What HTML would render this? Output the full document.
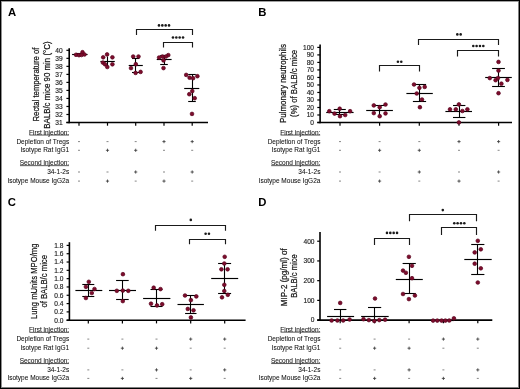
<!DOCTYPE html>
<html><head><meta charset="utf-8">
<style>
html,body{margin:0;padding:0;background:#fff;}
body{width:520px;height:389px;overflow:hidden;}
svg{display:block;will-change:transform;font-family:"Liberation Sans", sans-serif;}
</style></head>
<body>
<svg width="520" height="389" viewBox="0 0 520 389">
<rect width="520" height="389" fill="#fff"/>
<g>
<rect width="520" height="389" fill="#fff"/>
<text x="8" y="16.2" font-size="11.3" text-anchor="start" font-weight="bold" >A</text>
<line x1="69.2" y1="48.3" x2="69.2" y2="123.2" stroke="#000" stroke-width="1.6"/>
<line x1="66.4" y1="122.5" x2="208" y2="122.5" stroke="#000" stroke-width="1.6"/>
<line x1="66.4" y1="122.5" x2="69.2" y2="122.5" stroke="#000" stroke-width="1.2"/>
<text x="62.7" y="124.85" font-size="6.6" text-anchor="end" font-weight="normal" fill="#222" stroke="#222" stroke-width="0.15">31</text>
<line x1="66.4" y1="114.48" x2="69.2" y2="114.48" stroke="#000" stroke-width="1.2"/>
<text x="62.7" y="116.83" font-size="6.6" text-anchor="end" font-weight="normal" fill="#222" stroke="#222" stroke-width="0.15">32</text>
<line x1="66.4" y1="106.46000000000001" x2="69.2" y2="106.46000000000001" stroke="#000" stroke-width="1.2"/>
<text x="62.7" y="108.81" font-size="6.6" text-anchor="end" font-weight="normal" fill="#222" stroke="#222" stroke-width="0.15">33</text>
<line x1="66.4" y1="98.44" x2="69.2" y2="98.44" stroke="#000" stroke-width="1.2"/>
<text x="62.7" y="100.78999999999999" font-size="6.6" text-anchor="end" font-weight="normal" fill="#222" stroke="#222" stroke-width="0.15">34</text>
<line x1="66.4" y1="90.42" x2="69.2" y2="90.42" stroke="#000" stroke-width="1.2"/>
<text x="62.7" y="92.77" font-size="6.6" text-anchor="end" font-weight="normal" fill="#222" stroke="#222" stroke-width="0.15">35</text>
<line x1="66.4" y1="82.4" x2="69.2" y2="82.4" stroke="#000" stroke-width="1.2"/>
<text x="62.7" y="84.75" font-size="6.6" text-anchor="end" font-weight="normal" fill="#222" stroke="#222" stroke-width="0.15">36</text>
<line x1="66.4" y1="74.38" x2="69.2" y2="74.38" stroke="#000" stroke-width="1.2"/>
<text x="62.7" y="76.72999999999999" font-size="6.6" text-anchor="end" font-weight="normal" fill="#222" stroke="#222" stroke-width="0.15">37</text>
<line x1="66.4" y1="66.36" x2="69.2" y2="66.36" stroke="#000" stroke-width="1.2"/>
<text x="62.7" y="68.71" font-size="6.6" text-anchor="end" font-weight="normal" fill="#222" stroke="#222" stroke-width="0.15">38</text>
<line x1="66.4" y1="58.34" x2="69.2" y2="58.34" stroke="#000" stroke-width="1.2"/>
<text x="62.7" y="60.690000000000005" font-size="6.6" text-anchor="end" font-weight="normal" fill="#222" stroke="#222" stroke-width="0.15">39</text>
<line x1="66.4" y1="50.32000000000001" x2="69.2" y2="50.32000000000001" stroke="#000" stroke-width="1.2"/>
<text x="62.7" y="52.67000000000001" font-size="6.6" text-anchor="end" font-weight="normal" fill="#222" stroke="#222" stroke-width="0.15">40</text>
<line x1="79" y1="122.5" x2="79" y2="125.7" stroke="#000" stroke-width="1.2"/>
<line x1="107.5" y1="122.5" x2="107.5" y2="125.7" stroke="#000" stroke-width="1.2"/>
<line x1="135.7" y1="122.5" x2="135.7" y2="125.7" stroke="#000" stroke-width="1.2"/>
<line x1="164" y1="122.5" x2="164" y2="125.7" stroke="#000" stroke-width="1.2"/>
<line x1="192.2" y1="122.5" x2="192.2" y2="125.7" stroke="#000" stroke-width="1.2"/>
<text transform="translate(39.4,84.5) rotate(-90) scale(0.8105,1)" x="0" y="0" font-size="9.5" text-anchor="middle" fill="#111" stroke="#111" stroke-width="0.22">Rectal temperature of</text>
<text transform="translate(49.6,85.1) rotate(-90) scale(0.8316,1)" x="0" y="0" font-size="9.5" text-anchor="middle" fill="#111" stroke="#111" stroke-width="0.22">BALB/c mice 90 min (°C)</text>
<line x1="79.5" y1="53.5" x2="79.5" y2="55.5" stroke="#000" stroke-width="1.1"/>
<line x1="76" y1="53.5" x2="82" y2="53.5" stroke="#000" stroke-width="1.1"/>
<line x1="76" y1="55.5" x2="82" y2="55.5" stroke="#000" stroke-width="1.1"/>
<line x1="72.1" y1="54.5" x2="87.6" y2="54.5" stroke="#000" stroke-width="1.15"/>
<circle cx="76" cy="54.8" r="1.85" fill="#7d0c2c" stroke="#5a0620" stroke-width="0.7"/>
<circle cx="79" cy="55.2" r="1.85" fill="#7d0c2c" stroke="#5a0620" stroke-width="0.7"/>
<circle cx="82.5" cy="52.2" r="1.85" fill="#7d0c2c" stroke="#5a0620" stroke-width="0.7"/>
<circle cx="84.5" cy="54.5" r="1.85" fill="#7d0c2c" stroke="#5a0620" stroke-width="0.7"/>
<circle cx="81.5" cy="55" r="1.85" fill="#7d0c2c" stroke="#5a0620" stroke-width="0.7"/>
<line x1="107.5" y1="56.5" x2="107.5" y2="66.5" stroke="#000" stroke-width="1.1"/>
<line x1="100.4" y1="61.5" x2="114.8" y2="61.5" stroke="#000" stroke-width="1.15"/>
<circle cx="107.1" cy="54.4" r="1.85" fill="#7d0c2c" stroke="#5a0620" stroke-width="0.7"/>
<circle cx="103.2" cy="57.3" r="1.85" fill="#7d0c2c" stroke="#5a0620" stroke-width="0.7"/>
<circle cx="112.4" cy="57.3" r="1.85" fill="#7d0c2c" stroke="#5a0620" stroke-width="0.7"/>
<circle cx="102.9" cy="62.6" r="1.85" fill="#7d0c2c" stroke="#5a0620" stroke-width="0.7"/>
<circle cx="105" cy="64.3" r="1.85" fill="#7d0c2c" stroke="#5a0620" stroke-width="0.7"/>
<circle cx="112.4" cy="64.3" r="1.85" fill="#7d0c2c" stroke="#5a0620" stroke-width="0.7"/>
<circle cx="107.3" cy="67" r="1.85" fill="#7d0c2c" stroke="#5a0620" stroke-width="0.7"/>
<line x1="135.5" y1="58.5" x2="135.5" y2="72.5" stroke="#000" stroke-width="1.1"/>
<line x1="132.0" y1="58.5" x2="139.39999999999998" y2="58.5" stroke="#000" stroke-width="1.1"/>
<line x1="132.0" y1="72.5" x2="139.39999999999998" y2="72.5" stroke="#000" stroke-width="1.1"/>
<line x1="128.7" y1="65.5" x2="142.8" y2="65.5" stroke="#000" stroke-width="1.15"/>
<circle cx="133.2" cy="56.5" r="1.85" fill="#7d0c2c" stroke="#5a0620" stroke-width="0.7"/>
<circle cx="138.5" cy="56.5" r="1.85" fill="#7d0c2c" stroke="#5a0620" stroke-width="0.7"/>
<circle cx="135.8" cy="64.2" r="1.85" fill="#7d0c2c" stroke="#5a0620" stroke-width="0.7"/>
<circle cx="131" cy="68.1" r="1.85" fill="#7d0c2c" stroke="#5a0620" stroke-width="0.7"/>
<circle cx="135.6" cy="72.9" r="1.85" fill="#7d0c2c" stroke="#5a0620" stroke-width="0.7"/>
<circle cx="140.6" cy="71.9" r="1.85" fill="#7d0c2c" stroke="#5a0620" stroke-width="0.7"/>
<line x1="164.5" y1="55.5" x2="164.5" y2="64.5" stroke="#000" stroke-width="1.1"/>
<line x1="160.2" y1="55.5" x2="167.8" y2="55.5" stroke="#000" stroke-width="1.1"/>
<line x1="160.2" y1="64.5" x2="167.8" y2="64.5" stroke="#000" stroke-width="1.1"/>
<line x1="156.7" y1="59.5" x2="171.6" y2="59.5" stroke="#000" stroke-width="1.15"/>
<circle cx="159.1" cy="57.5" r="1.85" fill="#7d0c2c" stroke="#5a0620" stroke-width="0.7"/>
<circle cx="162.5" cy="56.5" r="1.85" fill="#7d0c2c" stroke="#5a0620" stroke-width="0.7"/>
<circle cx="168.3" cy="55.1" r="1.85" fill="#7d0c2c" stroke="#5a0620" stroke-width="0.7"/>
<circle cx="165.9" cy="56.5" r="1.85" fill="#7d0c2c" stroke="#5a0620" stroke-width="0.7"/>
<circle cx="163.5" cy="60.4" r="1.85" fill="#7d0c2c" stroke="#5a0620" stroke-width="0.7"/>
<circle cx="163.5" cy="68.1" r="1.85" fill="#7d0c2c" stroke="#5a0620" stroke-width="0.7"/>
<line x1="192.5" y1="74.5" x2="192.5" y2="101.5" stroke="#000" stroke-width="1.1"/>
<line x1="188.2" y1="74.5" x2="195.8" y2="74.5" stroke="#000" stroke-width="1.1"/>
<line x1="188.2" y1="101.5" x2="195.8" y2="101.5" stroke="#000" stroke-width="1.1"/>
<line x1="184.2" y1="88.5" x2="199.3" y2="88.5" stroke="#000" stroke-width="1.15"/>
<circle cx="186.2" cy="74.9" r="1.85" fill="#7d0c2c" stroke="#5a0620" stroke-width="0.7"/>
<circle cx="189.6" cy="77.7" r="1.85" fill="#7d0c2c" stroke="#5a0620" stroke-width="0.7"/>
<circle cx="193.1" cy="78.2" r="1.85" fill="#7d0c2c" stroke="#5a0620" stroke-width="0.7"/>
<circle cx="197.4" cy="76.2" r="1.85" fill="#7d0c2c" stroke="#5a0620" stroke-width="0.7"/>
<circle cx="192.3" cy="91.1" r="1.85" fill="#7d0c2c" stroke="#5a0620" stroke-width="0.7"/>
<circle cx="189.3" cy="94.2" r="1.85" fill="#7d0c2c" stroke="#5a0620" stroke-width="0.7"/>
<circle cx="194.7" cy="98.2" r="1.85" fill="#7d0c2c" stroke="#5a0620" stroke-width="0.7"/>
<circle cx="192" cy="113.9" r="1.85" fill="#7d0c2c" stroke="#5a0620" stroke-width="0.7"/>
<polyline points="136.5,35.1 136.5,29.5 192.5,29.5 192.5,35.1" fill="none" stroke="#1a1a1a" stroke-width="1.15"/>
<circle cx="158.97" cy="25.40" r="1.3" fill="#1a1a1a"/>
<circle cx="162.32" cy="25.40" r="1.3" fill="#1a1a1a"/>
<circle cx="165.68" cy="25.40" r="1.3" fill="#1a1a1a"/>
<circle cx="169.03" cy="25.40" r="1.3" fill="#1a1a1a"/>
<polyline points="163.5,47.6 163.5,42.5 192.5,42.5 192.5,47.6" fill="none" stroke="#1a1a1a" stroke-width="1.15"/>
<circle cx="172.97" cy="37.50" r="1.3" fill="#1a1a1a"/>
<circle cx="176.32" cy="37.50" r="1.3" fill="#1a1a1a"/>
<circle cx="179.68" cy="37.50" r="1.3" fill="#1a1a1a"/>
<circle cx="183.03" cy="37.50" r="1.3" fill="#1a1a1a"/>
<text x="69.2" y="134.5" font-size="6.5" text-anchor="end" font-weight="normal" fill="#111" stroke="#111" stroke-width="0.06">First injection:</text>
<text x="69.2" y="143.5" font-size="6.5" text-anchor="end" font-weight="normal" fill="#111" stroke="#111" stroke-width="0.06">Depletion of Tregs</text>
<text x="69.2" y="152.2" font-size="6.5" text-anchor="end" font-weight="normal" fill="#111" stroke="#111" stroke-width="0.06">Isotype Rat IgG1</text>
<text x="69.2" y="165.1" font-size="6.5" text-anchor="end" font-weight="normal" fill="#111" stroke="#111" stroke-width="0.06">Second injection:</text>
<text x="69.2" y="173.89999999999998" font-size="6.5" text-anchor="end" font-weight="normal" fill="#111" stroke="#111" stroke-width="0.06">34-1-2s</text>
<text x="69.2" y="183.0" font-size="6.5" text-anchor="end" font-weight="normal" fill="#111" stroke="#111" stroke-width="0.06">Isotype Mouse IgG2a</text>
<line x1="29.407187500000003" y1="135.05" x2="69.0" y2="135.05" stroke="#222" stroke-width="0.75"/>
<line x1="19.997430000000005" y1="165.65" x2="69.0" y2="165.65" stroke="#222" stroke-width="0.75"/>
<line x1="78.0" y1="141.60000000000002" x2="80.0" y2="141.60000000000002" stroke="#555" stroke-width="0.7"/>
<line x1="106.5" y1="141.60000000000002" x2="108.5" y2="141.60000000000002" stroke="#555" stroke-width="0.7"/>
<line x1="134.7" y1="141.60000000000002" x2="136.7" y2="141.60000000000002" stroke="#555" stroke-width="0.7"/>
<line x1="162.4" y1="141.60000000000002" x2="165.6" y2="141.60000000000002" stroke="#333" stroke-width="0.8"/>
<line x1="164" y1="140.0" x2="164" y2="143.20000000000002" stroke="#333" stroke-width="0.8"/>
<line x1="190.6" y1="141.60000000000002" x2="193.79999999999998" y2="141.60000000000002" stroke="#333" stroke-width="0.8"/>
<line x1="192.2" y1="140.0" x2="192.2" y2="143.20000000000002" stroke="#333" stroke-width="0.8"/>
<line x1="78.0" y1="150.3" x2="80.0" y2="150.3" stroke="#555" stroke-width="0.7"/>
<line x1="105.9" y1="150.3" x2="109.1" y2="150.3" stroke="#333" stroke-width="0.8"/>
<line x1="107.5" y1="148.7" x2="107.5" y2="151.9" stroke="#333" stroke-width="0.8"/>
<line x1="134.1" y1="150.3" x2="137.29999999999998" y2="150.3" stroke="#333" stroke-width="0.8"/>
<line x1="135.7" y1="148.7" x2="135.7" y2="151.9" stroke="#333" stroke-width="0.8"/>
<line x1="163.0" y1="150.3" x2="165.0" y2="150.3" stroke="#555" stroke-width="0.7"/>
<line x1="191.2" y1="150.3" x2="193.2" y2="150.3" stroke="#555" stroke-width="0.7"/>
<line x1="78.0" y1="172.0" x2="80.0" y2="172.0" stroke="#555" stroke-width="0.7"/>
<line x1="106.5" y1="172.0" x2="108.5" y2="172.0" stroke="#555" stroke-width="0.7"/>
<line x1="134.1" y1="172.0" x2="137.29999999999998" y2="172.0" stroke="#333" stroke-width="0.8"/>
<line x1="135.7" y1="170.39999999999998" x2="135.7" y2="173.6" stroke="#333" stroke-width="0.8"/>
<line x1="163.0" y1="172.0" x2="165.0" y2="172.0" stroke="#555" stroke-width="0.7"/>
<line x1="190.6" y1="172.0" x2="193.79999999999998" y2="172.0" stroke="#333" stroke-width="0.8"/>
<line x1="192.2" y1="170.39999999999998" x2="192.2" y2="173.6" stroke="#333" stroke-width="0.8"/>
<line x1="78.0" y1="181.10000000000002" x2="80.0" y2="181.10000000000002" stroke="#555" stroke-width="0.7"/>
<line x1="105.9" y1="181.10000000000002" x2="109.1" y2="181.10000000000002" stroke="#333" stroke-width="0.8"/>
<line x1="107.5" y1="179.5" x2="107.5" y2="182.70000000000002" stroke="#333" stroke-width="0.8"/>
<line x1="134.7" y1="181.10000000000002" x2="136.7" y2="181.10000000000002" stroke="#555" stroke-width="0.7"/>
<line x1="162.4" y1="181.10000000000002" x2="165.6" y2="181.10000000000002" stroke="#333" stroke-width="0.8"/>
<line x1="164" y1="179.5" x2="164" y2="182.70000000000002" stroke="#333" stroke-width="0.8"/>
<line x1="191.2" y1="181.10000000000002" x2="193.2" y2="181.10000000000002" stroke="#555" stroke-width="0.7"/>
<text x="258.3" y="16.299999999999997" font-size="11.3" text-anchor="start" font-weight="bold" >B</text>
<line x1="320.1" y1="44.6" x2="320.1" y2="123.2" stroke="#000" stroke-width="1.6"/>
<line x1="317.3" y1="122.5" x2="512" y2="122.5" stroke="#000" stroke-width="1.6"/>
<line x1="317.3" y1="122.5" x2="320.1" y2="122.5" stroke="#000" stroke-width="1.2"/>
<text x="314" y="124.85" font-size="6.6" text-anchor="end" font-weight="normal" fill="#222" stroke="#222" stroke-width="0.15">0</text>
<line x1="317.3" y1="114.99" x2="320.1" y2="114.99" stroke="#000" stroke-width="1.2"/>
<text x="314" y="117.33999999999999" font-size="6.6" text-anchor="end" font-weight="normal" fill="#222" stroke="#222" stroke-width="0.15">10</text>
<line x1="317.3" y1="107.48" x2="320.1" y2="107.48" stroke="#000" stroke-width="1.2"/>
<text x="314" y="109.83" font-size="6.6" text-anchor="end" font-weight="normal" fill="#222" stroke="#222" stroke-width="0.15">20</text>
<line x1="317.3" y1="99.97" x2="320.1" y2="99.97" stroke="#000" stroke-width="1.2"/>
<text x="314" y="102.32" font-size="6.6" text-anchor="end" font-weight="normal" fill="#222" stroke="#222" stroke-width="0.15">30</text>
<line x1="317.3" y1="92.46000000000001" x2="320.1" y2="92.46000000000001" stroke="#000" stroke-width="1.2"/>
<text x="314" y="94.81" font-size="6.6" text-anchor="end" font-weight="normal" fill="#222" stroke="#222" stroke-width="0.15">40</text>
<line x1="317.3" y1="84.95" x2="320.1" y2="84.95" stroke="#000" stroke-width="1.2"/>
<text x="314" y="87.3" font-size="6.6" text-anchor="end" font-weight="normal" fill="#222" stroke="#222" stroke-width="0.15">50</text>
<line x1="317.3" y1="77.44" x2="320.1" y2="77.44" stroke="#000" stroke-width="1.2"/>
<text x="314" y="79.78999999999999" font-size="6.6" text-anchor="end" font-weight="normal" fill="#222" stroke="#222" stroke-width="0.15">60</text>
<line x1="317.3" y1="69.93" x2="320.1" y2="69.93" stroke="#000" stroke-width="1.2"/>
<text x="314" y="72.28" font-size="6.6" text-anchor="end" font-weight="normal" fill="#222" stroke="#222" stroke-width="0.15">70</text>
<line x1="317.3" y1="62.42" x2="320.1" y2="62.42" stroke="#000" stroke-width="1.2"/>
<text x="314" y="64.77" font-size="6.6" text-anchor="end" font-weight="normal" fill="#222" stroke="#222" stroke-width="0.15">80</text>
<line x1="317.3" y1="54.91" x2="320.1" y2="54.91" stroke="#000" stroke-width="1.2"/>
<text x="314" y="57.26" font-size="6.6" text-anchor="end" font-weight="normal" fill="#222" stroke="#222" stroke-width="0.15">90</text>
<line x1="317.3" y1="47.400000000000006" x2="320.1" y2="47.400000000000006" stroke="#000" stroke-width="1.2"/>
<text x="314" y="49.75000000000001" font-size="6.6" text-anchor="end" font-weight="normal" fill="#222" stroke="#222" stroke-width="0.15">100</text>
<line x1="340" y1="122.5" x2="340" y2="125.7" stroke="#000" stroke-width="1.2"/>
<line x1="379.6" y1="122.5" x2="379.6" y2="125.7" stroke="#000" stroke-width="1.2"/>
<line x1="419.3" y1="122.5" x2="419.3" y2="125.7" stroke="#000" stroke-width="1.2"/>
<line x1="459" y1="122.5" x2="459" y2="125.7" stroke="#000" stroke-width="1.2"/>
<line x1="498.6" y1="122.5" x2="498.6" y2="125.7" stroke="#000" stroke-width="1.2"/>
<text transform="translate(286.0,83.5) rotate(-90) scale(0.8368,1)" x="0" y="0" font-size="9.5" text-anchor="middle" fill="#111" stroke="#111" stroke-width="0.22">Pulmonary neutrophils</text>
<text transform="translate(296.6,83.4) rotate(-90) scale(0.8158,1)" x="0" y="0" font-size="9.5" text-anchor="middle" fill="#111" stroke="#111" stroke-width="0.22">(%) of BALB/c mice</text>
<line x1="339.5" y1="109.5" x2="339.5" y2="114.5" stroke="#000" stroke-width="1.1"/>
<line x1="333.8" y1="109.5" x2="345.8" y2="109.5" stroke="#000" stroke-width="1.1"/>
<line x1="333.8" y1="114.5" x2="345.8" y2="114.5" stroke="#000" stroke-width="1.1"/>
<line x1="326.2" y1="112.5" x2="353.6" y2="112.5" stroke="#000" stroke-width="1.15"/>
<circle cx="329.3" cy="111.2" r="1.85" fill="#7d0c2c" stroke="#5a0620" stroke-width="0.7"/>
<circle cx="334.5" cy="113.6" r="1.85" fill="#7d0c2c" stroke="#5a0620" stroke-width="0.7"/>
<circle cx="339.7" cy="108.7" r="1.85" fill="#7d0c2c" stroke="#5a0620" stroke-width="0.7"/>
<circle cx="340" cy="116.2" r="1.85" fill="#7d0c2c" stroke="#5a0620" stroke-width="0.7"/>
<circle cx="345.2" cy="115" r="1.85" fill="#7d0c2c" stroke="#5a0620" stroke-width="0.7"/>
<circle cx="350.1" cy="111.2" r="1.85" fill="#7d0c2c" stroke="#5a0620" stroke-width="0.7"/>
<line x1="379.5" y1="105.5" x2="379.5" y2="116.5" stroke="#000" stroke-width="1.1"/>
<line x1="373.9" y1="105.5" x2="385.5" y2="105.5" stroke="#000" stroke-width="1.1"/>
<line x1="366.2" y1="110.5" x2="392.9" y2="110.5" stroke="#000" stroke-width="1.15"/>
<circle cx="373.8" cy="105.4" r="1.85" fill="#7d0c2c" stroke="#5a0620" stroke-width="0.7"/>
<circle cx="385.5" cy="104.5" r="1.85" fill="#7d0c2c" stroke="#5a0620" stroke-width="0.7"/>
<circle cx="379.7" cy="107.2" r="1.85" fill="#7d0c2c" stroke="#5a0620" stroke-width="0.7"/>
<circle cx="373.8" cy="113.1" r="1.85" fill="#7d0c2c" stroke="#5a0620" stroke-width="0.7"/>
<circle cx="385.5" cy="113.4" r="1.85" fill="#7d0c2c" stroke="#5a0620" stroke-width="0.7"/>
<circle cx="379.7" cy="116.2" r="1.85" fill="#7d0c2c" stroke="#5a0620" stroke-width="0.7"/>
<line x1="419.5" y1="84.5" x2="419.5" y2="101.5" stroke="#000" stroke-width="1.1"/>
<line x1="412.9" y1="84.5" x2="426.1" y2="84.5" stroke="#000" stroke-width="1.1"/>
<line x1="412.9" y1="101.5" x2="426.1" y2="101.5" stroke="#000" stroke-width="1.1"/>
<line x1="406.4" y1="93.5" x2="432.8" y2="93.5" stroke="#000" stroke-width="1.15"/>
<circle cx="414" cy="84.5" r="1.85" fill="#7d0c2c" stroke="#5a0620" stroke-width="0.7"/>
<circle cx="419.4" cy="87.8" r="1.85" fill="#7d0c2c" stroke="#5a0620" stroke-width="0.7"/>
<circle cx="424.7" cy="86.9" r="1.85" fill="#7d0c2c" stroke="#5a0620" stroke-width="0.7"/>
<circle cx="416.7" cy="93.5" r="1.85" fill="#7d0c2c" stroke="#5a0620" stroke-width="0.7"/>
<circle cx="422" cy="99.5" r="1.85" fill="#7d0c2c" stroke="#5a0620" stroke-width="0.7"/>
<circle cx="419.9" cy="107.2" r="1.85" fill="#7d0c2c" stroke="#5a0620" stroke-width="0.7"/>
<line x1="459.5" y1="105.5" x2="459.5" y2="117.5" stroke="#000" stroke-width="1.1"/>
<line x1="453.0" y1="105.5" x2="465.4" y2="105.5" stroke="#000" stroke-width="1.1"/>
<line x1="453.0" y1="117.5" x2="465.4" y2="117.5" stroke="#000" stroke-width="1.1"/>
<line x1="445.4" y1="111.5" x2="472" y2="111.5" stroke="#000" stroke-width="1.15"/>
<circle cx="458.9" cy="104.4" r="1.85" fill="#7d0c2c" stroke="#5a0620" stroke-width="0.7"/>
<circle cx="450" cy="109.3" r="1.85" fill="#7d0c2c" stroke="#5a0620" stroke-width="0.7"/>
<circle cx="455.8" cy="109.3" r="1.85" fill="#7d0c2c" stroke="#5a0620" stroke-width="0.7"/>
<circle cx="462.4" cy="111" r="1.85" fill="#7d0c2c" stroke="#5a0620" stroke-width="0.7"/>
<circle cx="467.4" cy="109.3" r="1.85" fill="#7d0c2c" stroke="#5a0620" stroke-width="0.7"/>
<circle cx="458.9" cy="122.4" r="1.85" fill="#7d0c2c" stroke="#5a0620" stroke-width="0.7"/>
<line x1="498.5" y1="68.5" x2="498.5" y2="86.5" stroke="#000" stroke-width="1.1"/>
<line x1="492.1" y1="68.5" x2="504.9" y2="68.5" stroke="#000" stroke-width="1.1"/>
<line x1="492.1" y1="86.5" x2="504.9" y2="86.5" stroke="#000" stroke-width="1.1"/>
<line x1="485.2" y1="77.5" x2="511.8" y2="77.5" stroke="#000" stroke-width="1.15"/>
<circle cx="498.5" cy="61.9" r="1.85" fill="#7d0c2c" stroke="#5a0620" stroke-width="0.7"/>
<circle cx="498.5" cy="70.6" r="1.85" fill="#7d0c2c" stroke="#5a0620" stroke-width="0.7"/>
<circle cx="489.8" cy="78.1" r="1.85" fill="#7d0c2c" stroke="#5a0620" stroke-width="0.7"/>
<circle cx="495.6" cy="80.2" r="1.85" fill="#7d0c2c" stroke="#5a0620" stroke-width="0.7"/>
<circle cx="498" cy="78" r="1.85" fill="#7d0c2c" stroke="#5a0620" stroke-width="0.7"/>
<circle cx="501.4" cy="83.7" r="1.85" fill="#7d0c2c" stroke="#5a0620" stroke-width="0.7"/>
<circle cx="507.4" cy="79.9" r="1.85" fill="#7d0c2c" stroke="#5a0620" stroke-width="0.7"/>
<circle cx="498.5" cy="93.2" r="1.85" fill="#7d0c2c" stroke="#5a0620" stroke-width="0.7"/>
<polyline points="418.5,45 418.5,39.5 498.5,39.5 498.5,45" fill="none" stroke="#1a1a1a" stroke-width="1.15"/>
<circle cx="457.32" cy="34.40" r="1.3" fill="#1a1a1a"/>
<circle cx="460.68" cy="34.40" r="1.3" fill="#1a1a1a"/>
<polyline points="457.5,56.5 457.5,50.5 498.5,50.5 498.5,56.5" fill="none" stroke="#1a1a1a" stroke-width="1.15"/>
<circle cx="473.28" cy="46.00" r="1.3" fill="#1a1a1a"/>
<circle cx="476.62" cy="46.00" r="1.3" fill="#1a1a1a"/>
<circle cx="479.98" cy="46.00" r="1.3" fill="#1a1a1a"/>
<circle cx="483.32" cy="46.00" r="1.3" fill="#1a1a1a"/>
<polyline points="379.5,71.6 379.5,65.5 419.5,65.5 419.5,71.6" fill="none" stroke="#1a1a1a" stroke-width="1.15"/>
<circle cx="397.93" cy="61.70" r="1.3" fill="#1a1a1a"/>
<circle cx="401.28" cy="61.70" r="1.3" fill="#1a1a1a"/>
<text x="320.4" y="134.5" font-size="6.5" text-anchor="end" font-weight="normal" fill="#111" stroke="#111" stroke-width="0.06">First injection:</text>
<text x="320.4" y="143.5" font-size="6.5" text-anchor="end" font-weight="normal" fill="#111" stroke="#111" stroke-width="0.06">Depletion of Tregs</text>
<text x="320.4" y="152.2" font-size="6.5" text-anchor="end" font-weight="normal" fill="#111" stroke="#111" stroke-width="0.06">Isotype Rat IgG1</text>
<text x="320.4" y="165.1" font-size="6.5" text-anchor="end" font-weight="normal" fill="#111" stroke="#111" stroke-width="0.06">Second injection:</text>
<text x="320.4" y="173.89999999999998" font-size="6.5" text-anchor="end" font-weight="normal" fill="#111" stroke="#111" stroke-width="0.06">34-1-2s</text>
<text x="320.4" y="183.0" font-size="6.5" text-anchor="end" font-weight="normal" fill="#111" stroke="#111" stroke-width="0.06">Isotype Mouse IgG2a</text>
<line x1="280.6071875" y1="135.05" x2="320.2" y2="135.05" stroke="#222" stroke-width="0.75"/>
<line x1="271.19743" y1="165.65" x2="320.2" y2="165.65" stroke="#222" stroke-width="0.75"/>
<line x1="339.0" y1="141.60000000000002" x2="341.0" y2="141.60000000000002" stroke="#555" stroke-width="0.7"/>
<line x1="378.6" y1="141.60000000000002" x2="380.6" y2="141.60000000000002" stroke="#555" stroke-width="0.7"/>
<line x1="418.3" y1="141.60000000000002" x2="420.3" y2="141.60000000000002" stroke="#555" stroke-width="0.7"/>
<line x1="457.4" y1="141.60000000000002" x2="460.6" y2="141.60000000000002" stroke="#333" stroke-width="0.8"/>
<line x1="459" y1="140.0" x2="459" y2="143.20000000000002" stroke="#333" stroke-width="0.8"/>
<line x1="497.0" y1="141.60000000000002" x2="500.20000000000005" y2="141.60000000000002" stroke="#333" stroke-width="0.8"/>
<line x1="498.6" y1="140.0" x2="498.6" y2="143.20000000000002" stroke="#333" stroke-width="0.8"/>
<line x1="339.0" y1="150.3" x2="341.0" y2="150.3" stroke="#555" stroke-width="0.7"/>
<line x1="378.0" y1="150.3" x2="381.20000000000005" y2="150.3" stroke="#333" stroke-width="0.8"/>
<line x1="379.6" y1="148.7" x2="379.6" y2="151.9" stroke="#333" stroke-width="0.8"/>
<line x1="417.7" y1="150.3" x2="420.90000000000003" y2="150.3" stroke="#333" stroke-width="0.8"/>
<line x1="419.3" y1="148.7" x2="419.3" y2="151.9" stroke="#333" stroke-width="0.8"/>
<line x1="458.0" y1="150.3" x2="460.0" y2="150.3" stroke="#555" stroke-width="0.7"/>
<line x1="497.6" y1="150.3" x2="499.6" y2="150.3" stroke="#555" stroke-width="0.7"/>
<line x1="339.0" y1="172.0" x2="341.0" y2="172.0" stroke="#555" stroke-width="0.7"/>
<line x1="378.6" y1="172.0" x2="380.6" y2="172.0" stroke="#555" stroke-width="0.7"/>
<line x1="417.7" y1="172.0" x2="420.90000000000003" y2="172.0" stroke="#333" stroke-width="0.8"/>
<line x1="419.3" y1="170.39999999999998" x2="419.3" y2="173.6" stroke="#333" stroke-width="0.8"/>
<line x1="458.0" y1="172.0" x2="460.0" y2="172.0" stroke="#555" stroke-width="0.7"/>
<line x1="497.0" y1="172.0" x2="500.20000000000005" y2="172.0" stroke="#333" stroke-width="0.8"/>
<line x1="498.6" y1="170.39999999999998" x2="498.6" y2="173.6" stroke="#333" stroke-width="0.8"/>
<line x1="339.0" y1="181.10000000000002" x2="341.0" y2="181.10000000000002" stroke="#555" stroke-width="0.7"/>
<line x1="378.0" y1="181.10000000000002" x2="381.20000000000005" y2="181.10000000000002" stroke="#333" stroke-width="0.8"/>
<line x1="379.6" y1="179.5" x2="379.6" y2="182.70000000000002" stroke="#333" stroke-width="0.8"/>
<line x1="418.3" y1="181.10000000000002" x2="420.3" y2="181.10000000000002" stroke="#555" stroke-width="0.7"/>
<line x1="457.4" y1="181.10000000000002" x2="460.6" y2="181.10000000000002" stroke="#333" stroke-width="0.8"/>
<line x1="459" y1="179.5" x2="459" y2="182.70000000000002" stroke="#333" stroke-width="0.8"/>
<line x1="497.6" y1="181.10000000000002" x2="499.6" y2="181.10000000000002" stroke="#555" stroke-width="0.7"/>
<text x="7.7" y="206.1" font-size="11.3" text-anchor="start" font-weight="bold" >C</text>
<line x1="69.4" y1="242.2" x2="69.4" y2="320.9" stroke="#000" stroke-width="1.6"/>
<line x1="66.60000000000001" y1="320.2" x2="245.6" y2="320.2" stroke="#000" stroke-width="1.6"/>
<line x1="66.60000000000001" y1="320.2" x2="69.4" y2="320.2" stroke="#000" stroke-width="1.2"/>
<text x="63.4" y="322.55" font-size="6.6" text-anchor="end" font-weight="normal" fill="#222" stroke="#222" stroke-width="0.15">0.0</text>
<line x1="66.60000000000001" y1="311.89" x2="69.4" y2="311.89" stroke="#000" stroke-width="1.2"/>
<text x="63.4" y="314.24" font-size="6.6" text-anchor="end" font-weight="normal" fill="#222" stroke="#222" stroke-width="0.15">0.2</text>
<line x1="66.60000000000001" y1="303.58" x2="69.4" y2="303.58" stroke="#000" stroke-width="1.2"/>
<text x="63.4" y="305.93" font-size="6.6" text-anchor="end" font-weight="normal" fill="#222" stroke="#222" stroke-width="0.15">0.4</text>
<line x1="66.60000000000001" y1="295.27" x2="69.4" y2="295.27" stroke="#000" stroke-width="1.2"/>
<text x="63.4" y="297.62" font-size="6.6" text-anchor="end" font-weight="normal" fill="#222" stroke="#222" stroke-width="0.15">0.6</text>
<line x1="66.60000000000001" y1="286.96" x2="69.4" y2="286.96" stroke="#000" stroke-width="1.2"/>
<text x="63.4" y="289.31" font-size="6.6" text-anchor="end" font-weight="normal" fill="#222" stroke="#222" stroke-width="0.15">0.8</text>
<line x1="66.60000000000001" y1="278.65" x2="69.4" y2="278.65" stroke="#000" stroke-width="1.2"/>
<text x="63.4" y="281.0" font-size="6.6" text-anchor="end" font-weight="normal" fill="#222" stroke="#222" stroke-width="0.15">1.0</text>
<line x1="66.60000000000001" y1="270.34" x2="69.4" y2="270.34" stroke="#000" stroke-width="1.2"/>
<text x="63.4" y="272.69" font-size="6.6" text-anchor="end" font-weight="normal" fill="#222" stroke="#222" stroke-width="0.15">1.2</text>
<line x1="66.60000000000001" y1="262.03" x2="69.4" y2="262.03" stroke="#000" stroke-width="1.2"/>
<text x="63.4" y="264.38" font-size="6.6" text-anchor="end" font-weight="normal" fill="#222" stroke="#222" stroke-width="0.15">1.4</text>
<line x1="66.60000000000001" y1="253.71999999999997" x2="69.4" y2="253.71999999999997" stroke="#000" stroke-width="1.2"/>
<text x="63.4" y="256.07" font-size="6.6" text-anchor="end" font-weight="normal" fill="#222" stroke="#222" stroke-width="0.15">1.6</text>
<line x1="66.60000000000001" y1="245.40999999999997" x2="69.4" y2="245.40999999999997" stroke="#000" stroke-width="1.2"/>
<text x="63.4" y="247.75999999999996" font-size="6.6" text-anchor="end" font-weight="normal" fill="#222" stroke="#222" stroke-width="0.15">1.8</text>
<line x1="88.3" y1="320.2" x2="88.3" y2="323.4" stroke="#000" stroke-width="1.2"/>
<line x1="122.4" y1="320.2" x2="122.4" y2="323.4" stroke="#000" stroke-width="1.2"/>
<line x1="156.5" y1="320.2" x2="156.5" y2="323.4" stroke="#000" stroke-width="1.2"/>
<line x1="190.7" y1="320.2" x2="190.7" y2="323.4" stroke="#000" stroke-width="1.2"/>
<line x1="224.7" y1="320.2" x2="224.7" y2="323.4" stroke="#000" stroke-width="1.2"/>
<text transform="translate(36.7,281.3) rotate(-90) scale(0.8105,1)" x="0" y="0" font-size="9.5" text-anchor="middle" fill="#111" stroke="#111" stroke-width="0.22">Lung mUnits MPO/mg</text>
<text transform="translate(46.6,281.3) rotate(-90) scale(0.8105,1)" x="0" y="0" font-size="9.5" text-anchor="middle" fill="#111" stroke="#111" stroke-width="0.22">of BALB/c mice</text>
<line x1="88.5" y1="284.5" x2="88.5" y2="296.5" stroke="#000" stroke-width="1.1"/>
<line x1="82.3" y1="284.5" x2="94.3" y2="284.5" stroke="#000" stroke-width="1.1"/>
<line x1="82.3" y1="296.5" x2="94.3" y2="296.5" stroke="#000" stroke-width="1.1"/>
<line x1="75.4" y1="290.5" x2="102.3" y2="290.5" stroke="#000" stroke-width="1.15"/>
<circle cx="88.8" cy="281.8" r="1.85" fill="#7d0c2c" stroke="#5a0620" stroke-width="0.7"/>
<circle cx="85.9" cy="286.8" r="1.85" fill="#7d0c2c" stroke="#5a0620" stroke-width="0.7"/>
<circle cx="94.5" cy="289" r="1.85" fill="#7d0c2c" stroke="#5a0620" stroke-width="0.7"/>
<circle cx="91.8" cy="293" r="1.85" fill="#7d0c2c" stroke="#5a0620" stroke-width="0.7"/>
<circle cx="85.9" cy="298" r="1.85" fill="#7d0c2c" stroke="#5a0620" stroke-width="0.7"/>
<line x1="122.5" y1="280.5" x2="122.5" y2="299.5" stroke="#000" stroke-width="1.1"/>
<line x1="116.10000000000001" y1="280.5" x2="128.70000000000002" y2="280.5" stroke="#000" stroke-width="1.1"/>
<line x1="116.10000000000001" y1="299.5" x2="128.70000000000002" y2="299.5" stroke="#000" stroke-width="1.1"/>
<line x1="109" y1="290.5" x2="136" y2="290.5" stroke="#000" stroke-width="1.15"/>
<circle cx="122.9" cy="274.2" r="1.85" fill="#7d0c2c" stroke="#5a0620" stroke-width="0.7"/>
<circle cx="116.8" cy="290.8" r="1.85" fill="#7d0c2c" stroke="#5a0620" stroke-width="0.7"/>
<circle cx="122.8" cy="290.6" r="1.85" fill="#7d0c2c" stroke="#5a0620" stroke-width="0.7"/>
<circle cx="128.3" cy="290.8" r="1.85" fill="#7d0c2c" stroke="#5a0620" stroke-width="0.7"/>
<circle cx="122.8" cy="301.1" r="1.85" fill="#7d0c2c" stroke="#5a0620" stroke-width="0.7"/>
<line x1="156.5" y1="289.5" x2="156.5" y2="306.5" stroke="#000" stroke-width="1.1"/>
<line x1="150.5" y1="289.5" x2="162.5" y2="289.5" stroke="#000" stroke-width="1.1"/>
<line x1="150.5" y1="306.5" x2="162.5" y2="306.5" stroke="#000" stroke-width="1.1"/>
<line x1="143.1" y1="298.5" x2="170.4" y2="298.5" stroke="#000" stroke-width="1.15"/>
<circle cx="153.7" cy="287.7" r="1.85" fill="#7d0c2c" stroke="#5a0620" stroke-width="0.7"/>
<circle cx="160.5" cy="289.1" r="1.85" fill="#7d0c2c" stroke="#5a0620" stroke-width="0.7"/>
<circle cx="151" cy="303.7" r="1.85" fill="#7d0c2c" stroke="#5a0620" stroke-width="0.7"/>
<circle cx="157" cy="305.4" r="1.85" fill="#7d0c2c" stroke="#5a0620" stroke-width="0.7"/>
<circle cx="162.2" cy="304.2" r="1.85" fill="#7d0c2c" stroke="#5a0620" stroke-width="0.7"/>
<line x1="190.5" y1="295.5" x2="190.5" y2="313.5" stroke="#000" stroke-width="1.1"/>
<line x1="185.10000000000002" y1="295.5" x2="196.5" y2="295.5" stroke="#000" stroke-width="1.1"/>
<line x1="185.10000000000002" y1="313.5" x2="196.5" y2="313.5" stroke="#000" stroke-width="1.1"/>
<line x1="177.5" y1="304.5" x2="203.9" y2="304.5" stroke="#000" stroke-width="1.15"/>
<circle cx="185" cy="295.5" r="1.85" fill="#7d0c2c" stroke="#5a0620" stroke-width="0.7"/>
<circle cx="196.3" cy="296.4" r="1.85" fill="#7d0c2c" stroke="#5a0620" stroke-width="0.7"/>
<circle cx="190.9" cy="300.1" r="1.85" fill="#7d0c2c" stroke="#5a0620" stroke-width="0.7"/>
<circle cx="187.8" cy="308.9" r="1.85" fill="#7d0c2c" stroke="#5a0620" stroke-width="0.7"/>
<circle cx="193.5" cy="310.3" r="1.85" fill="#7d0c2c" stroke="#5a0620" stroke-width="0.7"/>
<circle cx="190.9" cy="317.4" r="1.85" fill="#7d0c2c" stroke="#5a0620" stroke-width="0.7"/>
<line x1="224.5" y1="263.5" x2="224.5" y2="293.5" stroke="#000" stroke-width="1.1"/>
<line x1="218.1" y1="263.5" x2="231.1" y2="263.5" stroke="#000" stroke-width="1.1"/>
<line x1="218.1" y1="293.5" x2="231.1" y2="293.5" stroke="#000" stroke-width="1.1"/>
<line x1="211.2" y1="278.5" x2="238.2" y2="278.5" stroke="#000" stroke-width="1.15"/>
<circle cx="224.7" cy="256.8" r="1.85" fill="#7d0c2c" stroke="#5a0620" stroke-width="0.7"/>
<circle cx="224.3" cy="263.5" r="1.85" fill="#7d0c2c" stroke="#5a0620" stroke-width="0.7"/>
<circle cx="221.4" cy="269.3" r="1.85" fill="#7d0c2c" stroke="#5a0620" stroke-width="0.7"/>
<circle cx="227.6" cy="269.3" r="1.85" fill="#7d0c2c" stroke="#5a0620" stroke-width="0.7"/>
<circle cx="224.3" cy="284.8" r="1.85" fill="#7d0c2c" stroke="#5a0620" stroke-width="0.7"/>
<circle cx="224.3" cy="291" r="1.85" fill="#7d0c2c" stroke="#5a0620" stroke-width="0.7"/>
<circle cx="227.8" cy="294.8" r="1.85" fill="#7d0c2c" stroke="#5a0620" stroke-width="0.7"/>
<circle cx="222" cy="297.3" r="1.85" fill="#7d0c2c" stroke="#5a0620" stroke-width="0.7"/>
<polyline points="155.5,230.8 155.5,225.5 225.5,225.5 225.5,230.8" fill="none" stroke="#1a1a1a" stroke-width="1.15"/>
<circle cx="190.80" cy="219.90" r="1.3" fill="#1a1a1a"/>
<polyline points="189.5,244.3 189.5,239.5 225.5,239.5 225.5,244.3" fill="none" stroke="#1a1a1a" stroke-width="1.15"/>
<circle cx="205.62" cy="233.70" r="1.3" fill="#1a1a1a"/>
<circle cx="208.98" cy="233.70" r="1.3" fill="#1a1a1a"/>
<text x="69.2" y="331.8" font-size="6.5" text-anchor="end" font-weight="normal" fill="#111" stroke="#111" stroke-width="0.06">First injection:</text>
<text x="69.2" y="341.0" font-size="6.5" text-anchor="end" font-weight="normal" fill="#111" stroke="#111" stroke-width="0.06">Depletion of Tregs</text>
<text x="69.2" y="350.09999999999997" font-size="6.5" text-anchor="end" font-weight="normal" fill="#111" stroke="#111" stroke-width="0.06">Isotype Rat IgG1</text>
<text x="69.2" y="363.0" font-size="6.5" text-anchor="end" font-weight="normal" fill="#111" stroke="#111" stroke-width="0.06">Second injection:</text>
<text x="69.2" y="371.8" font-size="6.5" text-anchor="end" font-weight="normal" fill="#111" stroke="#111" stroke-width="0.06">34-1-2s</text>
<text x="69.2" y="380.3" font-size="6.5" text-anchor="end" font-weight="normal" fill="#111" stroke="#111" stroke-width="0.06">Isotype Mouse IgG2a</text>
<line x1="29.407187500000003" y1="332.35" x2="69.0" y2="332.35" stroke="#222" stroke-width="0.75"/>
<line x1="19.997430000000005" y1="363.55" x2="69.0" y2="363.55" stroke="#222" stroke-width="0.75"/>
<line x1="87.3" y1="339.1" x2="89.3" y2="339.1" stroke="#555" stroke-width="0.7"/>
<line x1="121.4" y1="339.1" x2="123.4" y2="339.1" stroke="#555" stroke-width="0.7"/>
<line x1="155.5" y1="339.1" x2="157.5" y2="339.1" stroke="#555" stroke-width="0.7"/>
<line x1="189.1" y1="339.1" x2="192.29999999999998" y2="339.1" stroke="#333" stroke-width="0.8"/>
<line x1="190.7" y1="337.5" x2="190.7" y2="340.7" stroke="#333" stroke-width="0.8"/>
<line x1="223.1" y1="339.1" x2="226.29999999999998" y2="339.1" stroke="#333" stroke-width="0.8"/>
<line x1="224.7" y1="337.5" x2="224.7" y2="340.7" stroke="#333" stroke-width="0.8"/>
<line x1="87.3" y1="348.2" x2="89.3" y2="348.2" stroke="#555" stroke-width="0.7"/>
<line x1="120.80000000000001" y1="348.2" x2="124.0" y2="348.2" stroke="#333" stroke-width="0.8"/>
<line x1="122.4" y1="346.59999999999997" x2="122.4" y2="349.79999999999995" stroke="#333" stroke-width="0.8"/>
<line x1="154.9" y1="348.2" x2="158.1" y2="348.2" stroke="#333" stroke-width="0.8"/>
<line x1="156.5" y1="346.59999999999997" x2="156.5" y2="349.79999999999995" stroke="#333" stroke-width="0.8"/>
<line x1="189.7" y1="348.2" x2="191.7" y2="348.2" stroke="#555" stroke-width="0.7"/>
<line x1="223.7" y1="348.2" x2="225.7" y2="348.2" stroke="#555" stroke-width="0.7"/>
<line x1="87.3" y1="369.90000000000003" x2="89.3" y2="369.90000000000003" stroke="#555" stroke-width="0.7"/>
<line x1="121.4" y1="369.90000000000003" x2="123.4" y2="369.90000000000003" stroke="#555" stroke-width="0.7"/>
<line x1="154.9" y1="369.90000000000003" x2="158.1" y2="369.90000000000003" stroke="#333" stroke-width="0.8"/>
<line x1="156.5" y1="368.3" x2="156.5" y2="371.5" stroke="#333" stroke-width="0.8"/>
<line x1="189.7" y1="369.90000000000003" x2="191.7" y2="369.90000000000003" stroke="#555" stroke-width="0.7"/>
<line x1="223.1" y1="369.90000000000003" x2="226.29999999999998" y2="369.90000000000003" stroke="#333" stroke-width="0.8"/>
<line x1="224.7" y1="368.3" x2="224.7" y2="371.5" stroke="#333" stroke-width="0.8"/>
<line x1="87.3" y1="378.40000000000003" x2="89.3" y2="378.40000000000003" stroke="#555" stroke-width="0.7"/>
<line x1="120.80000000000001" y1="378.40000000000003" x2="124.0" y2="378.40000000000003" stroke="#333" stroke-width="0.8"/>
<line x1="122.4" y1="376.8" x2="122.4" y2="380.0" stroke="#333" stroke-width="0.8"/>
<line x1="155.5" y1="378.40000000000003" x2="157.5" y2="378.40000000000003" stroke="#555" stroke-width="0.7"/>
<line x1="189.1" y1="378.40000000000003" x2="192.29999999999998" y2="378.40000000000003" stroke="#333" stroke-width="0.8"/>
<line x1="190.7" y1="376.8" x2="190.7" y2="380.0" stroke="#333" stroke-width="0.8"/>
<line x1="223.7" y1="378.40000000000003" x2="225.7" y2="378.40000000000003" stroke="#555" stroke-width="0.7"/>
<text x="258.3" y="206.29999999999998" font-size="11.3" text-anchor="start" font-weight="bold" >D</text>
<line x1="320" y1="231.9" x2="320" y2="320.8" stroke="#000" stroke-width="1.6"/>
<line x1="317.2" y1="320.1" x2="492.3" y2="320.1" stroke="#000" stroke-width="1.6"/>
<line x1="317.2" y1="320.1" x2="320" y2="320.1" stroke="#000" stroke-width="1.2"/>
<text x="314.5" y="322.45000000000005" font-size="6.6" text-anchor="end" font-weight="normal" fill="#222" stroke="#222" stroke-width="0.15">0</text>
<line x1="317.2" y1="300.38" x2="320" y2="300.38" stroke="#000" stroke-width="1.2"/>
<text x="314.5" y="302.73" font-size="6.6" text-anchor="end" font-weight="normal" fill="#222" stroke="#222" stroke-width="0.15">100</text>
<line x1="317.2" y1="280.66" x2="320" y2="280.66" stroke="#000" stroke-width="1.2"/>
<text x="314.5" y="283.01000000000005" font-size="6.6" text-anchor="end" font-weight="normal" fill="#222" stroke="#222" stroke-width="0.15">200</text>
<line x1="317.2" y1="260.94000000000005" x2="320" y2="260.94000000000005" stroke="#000" stroke-width="1.2"/>
<text x="314.5" y="263.2900000000001" font-size="6.6" text-anchor="end" font-weight="normal" fill="#222" stroke="#222" stroke-width="0.15">300</text>
<line x1="317.2" y1="241.22000000000003" x2="320" y2="241.22000000000003" stroke="#000" stroke-width="1.2"/>
<text x="314.5" y="243.57000000000002" font-size="6.6" text-anchor="end" font-weight="normal" fill="#222" stroke="#222" stroke-width="0.15">400</text>
<line x1="340.2" y1="320.1" x2="340.2" y2="323.3" stroke="#000" stroke-width="1.2"/>
<line x1="374.6" y1="320.1" x2="374.6" y2="323.3" stroke="#000" stroke-width="1.2"/>
<line x1="409.1" y1="320.1" x2="409.1" y2="323.3" stroke="#000" stroke-width="1.2"/>
<line x1="443.4" y1="320.1" x2="443.4" y2="323.3" stroke="#000" stroke-width="1.2"/>
<line x1="477.8" y1="320.1" x2="477.8" y2="323.3" stroke="#000" stroke-width="1.2"/>
<text transform="translate(286.8,277.2) rotate(-90) scale(0.8526,1)" x="0" y="0" font-size="9.5" text-anchor="middle" fill="#111" stroke="#111" stroke-width="0.22">MIP-2 (pg/ml) of</text>
<text transform="translate(297.2,276.0) rotate(-90) scale(0.8000,1)" x="0" y="0" font-size="9.5" text-anchor="middle" fill="#111" stroke="#111" stroke-width="0.22">BALB/c mice</text>
<line x1="340.5" y1="309.5" x2="340.5" y2="320.5" stroke="#000" stroke-width="1.1"/>
<line x1="334.0" y1="309.5" x2="346.4" y2="309.5" stroke="#000" stroke-width="1.1"/>
<line x1="327.1" y1="316.5" x2="354.1" y2="316.5" stroke="#000" stroke-width="1.15"/>
<circle cx="340.2" cy="302.9" r="1.85" fill="#7d0c2c" stroke="#5a0620" stroke-width="0.7"/>
<circle cx="331.6" cy="320.5" r="1.85" fill="#7d0c2c" stroke="#5a0620" stroke-width="0.7"/>
<circle cx="337.4" cy="320.5" r="1.85" fill="#7d0c2c" stroke="#5a0620" stroke-width="0.7"/>
<circle cx="343.2" cy="320.5" r="1.85" fill="#7d0c2c" stroke="#5a0620" stroke-width="0.7"/>
<circle cx="349.6" cy="319.5" r="1.85" fill="#7d0c2c" stroke="#5a0620" stroke-width="0.7"/>
<line x1="374.5" y1="307.5" x2="374.5" y2="320.5" stroke="#000" stroke-width="1.1"/>
<line x1="368.0" y1="307.5" x2="381.20000000000005" y2="307.5" stroke="#000" stroke-width="1.1"/>
<line x1="361.1" y1="316.5" x2="388.7" y2="316.5" stroke="#000" stroke-width="1.15"/>
<circle cx="375" cy="298.5" r="1.85" fill="#7d0c2c" stroke="#5a0620" stroke-width="0.7"/>
<circle cx="363.5" cy="319.2" r="1.85" fill="#7d0c2c" stroke="#5a0620" stroke-width="0.7"/>
<circle cx="368.9" cy="320.1" r="1.85" fill="#7d0c2c" stroke="#5a0620" stroke-width="0.7"/>
<circle cx="374.3" cy="321" r="1.85" fill="#7d0c2c" stroke="#5a0620" stroke-width="0.7"/>
<circle cx="379.3" cy="320.1" r="1.85" fill="#7d0c2c" stroke="#5a0620" stroke-width="0.7"/>
<circle cx="385.1" cy="319.7" r="1.85" fill="#7d0c2c" stroke="#5a0620" stroke-width="0.7"/>
<line x1="409.5" y1="263.5" x2="409.5" y2="293.5" stroke="#000" stroke-width="1.1"/>
<line x1="402.59999999999997" y1="263.5" x2="415.8" y2="263.5" stroke="#000" stroke-width="1.1"/>
<line x1="402.59999999999997" y1="293.5" x2="415.8" y2="293.5" stroke="#000" stroke-width="1.1"/>
<line x1="395.8" y1="279.5" x2="422.8" y2="279.5" stroke="#000" stroke-width="1.15"/>
<circle cx="408.9" cy="256.8" r="1.85" fill="#7d0c2c" stroke="#5a0620" stroke-width="0.7"/>
<circle cx="412" cy="265.8" r="1.85" fill="#7d0c2c" stroke="#5a0620" stroke-width="0.7"/>
<circle cx="403" cy="270.6" r="1.85" fill="#7d0c2c" stroke="#5a0620" stroke-width="0.7"/>
<circle cx="405.9" cy="272.8" r="1.85" fill="#7d0c2c" stroke="#5a0620" stroke-width="0.7"/>
<circle cx="412" cy="278.2" r="1.85" fill="#7d0c2c" stroke="#5a0620" stroke-width="0.7"/>
<circle cx="403" cy="294" r="1.85" fill="#7d0c2c" stroke="#5a0620" stroke-width="0.7"/>
<circle cx="414.9" cy="295.5" r="1.85" fill="#7d0c2c" stroke="#5a0620" stroke-width="0.7"/>
<circle cx="408.9" cy="299.1" r="1.85" fill="#7d0c2c" stroke="#5a0620" stroke-width="0.7"/>
<line x1="433" y1="320.5" x2="454" y2="320.5" stroke="#000" stroke-width="1.15"/>
<circle cx="433.1" cy="320.6" r="1.85" fill="#7d0c2c" stroke="#5a0620" stroke-width="0.7"/>
<circle cx="437.3" cy="320.6" r="1.85" fill="#7d0c2c" stroke="#5a0620" stroke-width="0.7"/>
<circle cx="441.6" cy="320.6" r="1.85" fill="#7d0c2c" stroke="#5a0620" stroke-width="0.7"/>
<circle cx="445.4" cy="320.6" r="1.85" fill="#7d0c2c" stroke="#5a0620" stroke-width="0.7"/>
<circle cx="449.3" cy="320.5" r="1.85" fill="#7d0c2c" stroke="#5a0620" stroke-width="0.7"/>
<circle cx="453.9" cy="318.3" r="1.85" fill="#7d0c2c" stroke="#5a0620" stroke-width="0.7"/>
<line x1="477.5" y1="244.5" x2="477.5" y2="274.5" stroke="#000" stroke-width="1.1"/>
<line x1="471.2" y1="244.5" x2="484.40000000000003" y2="244.5" stroke="#000" stroke-width="1.1"/>
<line x1="471.2" y1="274.5" x2="484.40000000000003" y2="274.5" stroke="#000" stroke-width="1.1"/>
<line x1="464.3" y1="259.5" x2="491.7" y2="259.5" stroke="#000" stroke-width="1.15"/>
<circle cx="477.8" cy="240.8" r="1.85" fill="#7d0c2c" stroke="#5a0620" stroke-width="0.7"/>
<circle cx="480.8" cy="249.3" r="1.85" fill="#7d0c2c" stroke="#5a0620" stroke-width="0.7"/>
<circle cx="474.7" cy="252.4" r="1.85" fill="#7d0c2c" stroke="#5a0620" stroke-width="0.7"/>
<circle cx="474.7" cy="263.7" r="1.85" fill="#7d0c2c" stroke="#5a0620" stroke-width="0.7"/>
<circle cx="480.8" cy="268.3" r="1.85" fill="#7d0c2c" stroke="#5a0620" stroke-width="0.7"/>
<circle cx="477.8" cy="282.5" r="1.85" fill="#7d0c2c" stroke="#5a0620" stroke-width="0.7"/>
<polyline points="409.5,221.2 409.5,214.5 476.5,214.5 476.5,221.2" fill="none" stroke="#1a1a1a" stroke-width="1.15"/>
<circle cx="442.80" cy="210.10" r="1.3" fill="#1a1a1a"/>
<polyline points="441.5,235.1 441.5,227.5 476.5,227.5 476.5,235.1" fill="none" stroke="#1a1a1a" stroke-width="1.15"/>
<circle cx="454.28" cy="223.20" r="1.3" fill="#1a1a1a"/>
<circle cx="457.62" cy="223.20" r="1.3" fill="#1a1a1a"/>
<circle cx="460.98" cy="223.20" r="1.3" fill="#1a1a1a"/>
<circle cx="464.32" cy="223.20" r="1.3" fill="#1a1a1a"/>
<polyline points="374.5,245.1 374.5,238.5 409.5,238.5 409.5,245.1" fill="none" stroke="#1a1a1a" stroke-width="1.15"/>
<circle cx="386.98" cy="232.90" r="1.3" fill="#1a1a1a"/>
<circle cx="390.32" cy="232.90" r="1.3" fill="#1a1a1a"/>
<circle cx="393.68" cy="232.90" r="1.3" fill="#1a1a1a"/>
<circle cx="397.02" cy="232.90" r="1.3" fill="#1a1a1a"/>
<text x="320.4" y="331.59999999999997" font-size="6.5" text-anchor="end" font-weight="normal" fill="#111" stroke="#111" stroke-width="0.06">First injection:</text>
<text x="320.4" y="341.0" font-size="6.5" text-anchor="end" font-weight="normal" fill="#111" stroke="#111" stroke-width="0.06">Depletion of Tregs</text>
<text x="320.4" y="350.09999999999997" font-size="6.5" text-anchor="end" font-weight="normal" fill="#111" stroke="#111" stroke-width="0.06">Isotype Rat IgG1</text>
<text x="320.4" y="363.0" font-size="6.5" text-anchor="end" font-weight="normal" fill="#111" stroke="#111" stroke-width="0.06">Second injection:</text>
<text x="320.4" y="371.8" font-size="6.5" text-anchor="end" font-weight="normal" fill="#111" stroke="#111" stroke-width="0.06">34-1-2s</text>
<text x="320.4" y="380.3" font-size="6.5" text-anchor="end" font-weight="normal" fill="#111" stroke="#111" stroke-width="0.06">Isotype Mouse IgG2a</text>
<line x1="280.6071875" y1="332.15" x2="320.2" y2="332.15" stroke="#222" stroke-width="0.75"/>
<line x1="271.19743" y1="363.55" x2="320.2" y2="363.55" stroke="#222" stroke-width="0.75"/>
<line x1="339.2" y1="339.1" x2="341.2" y2="339.1" stroke="#555" stroke-width="0.7"/>
<line x1="373.6" y1="339.1" x2="375.6" y2="339.1" stroke="#555" stroke-width="0.7"/>
<line x1="408.1" y1="339.1" x2="410.1" y2="339.1" stroke="#555" stroke-width="0.7"/>
<line x1="441.79999999999995" y1="339.1" x2="445.0" y2="339.1" stroke="#333" stroke-width="0.8"/>
<line x1="443.4" y1="337.5" x2="443.4" y2="340.7" stroke="#333" stroke-width="0.8"/>
<line x1="476.2" y1="339.1" x2="479.40000000000003" y2="339.1" stroke="#333" stroke-width="0.8"/>
<line x1="477.8" y1="337.5" x2="477.8" y2="340.7" stroke="#333" stroke-width="0.8"/>
<line x1="339.2" y1="348.2" x2="341.2" y2="348.2" stroke="#555" stroke-width="0.7"/>
<line x1="373.0" y1="348.2" x2="376.20000000000005" y2="348.2" stroke="#333" stroke-width="0.8"/>
<line x1="374.6" y1="346.59999999999997" x2="374.6" y2="349.79999999999995" stroke="#333" stroke-width="0.8"/>
<line x1="407.5" y1="348.2" x2="410.70000000000005" y2="348.2" stroke="#333" stroke-width="0.8"/>
<line x1="409.1" y1="346.59999999999997" x2="409.1" y2="349.79999999999995" stroke="#333" stroke-width="0.8"/>
<line x1="442.4" y1="348.2" x2="444.4" y2="348.2" stroke="#555" stroke-width="0.7"/>
<line x1="476.8" y1="348.2" x2="478.8" y2="348.2" stroke="#555" stroke-width="0.7"/>
<line x1="339.2" y1="369.90000000000003" x2="341.2" y2="369.90000000000003" stroke="#555" stroke-width="0.7"/>
<line x1="373.6" y1="369.90000000000003" x2="375.6" y2="369.90000000000003" stroke="#555" stroke-width="0.7"/>
<line x1="407.5" y1="369.90000000000003" x2="410.70000000000005" y2="369.90000000000003" stroke="#333" stroke-width="0.8"/>
<line x1="409.1" y1="368.3" x2="409.1" y2="371.5" stroke="#333" stroke-width="0.8"/>
<line x1="442.4" y1="369.90000000000003" x2="444.4" y2="369.90000000000003" stroke="#555" stroke-width="0.7"/>
<line x1="476.2" y1="369.90000000000003" x2="479.40000000000003" y2="369.90000000000003" stroke="#333" stroke-width="0.8"/>
<line x1="477.8" y1="368.3" x2="477.8" y2="371.5" stroke="#333" stroke-width="0.8"/>
<line x1="339.2" y1="378.40000000000003" x2="341.2" y2="378.40000000000003" stroke="#555" stroke-width="0.7"/>
<line x1="373.0" y1="378.40000000000003" x2="376.20000000000005" y2="378.40000000000003" stroke="#333" stroke-width="0.8"/>
<line x1="374.6" y1="376.8" x2="374.6" y2="380.0" stroke="#333" stroke-width="0.8"/>
<line x1="408.1" y1="378.40000000000003" x2="410.1" y2="378.40000000000003" stroke="#555" stroke-width="0.7"/>
<line x1="441.79999999999995" y1="378.40000000000003" x2="445.0" y2="378.40000000000003" stroke="#333" stroke-width="0.8"/>
<line x1="443.4" y1="376.8" x2="443.4" y2="380.0" stroke="#333" stroke-width="0.8"/>
<line x1="476.8" y1="378.40000000000003" x2="478.8" y2="378.40000000000003" stroke="#555" stroke-width="0.7"/>
<g shape-rendering="crispEdges"><rect x="0" y="1" width="520" height="1" fill="#a0a0a0"/><rect x="1" y="0" width="1" height="389" fill="#909090"/><rect x="518" y="0" width="1" height="389" fill="#808080"/><rect x="0" y="387" width="520" height="1" fill="#808080"/><rect x="0" y="0" width="520" height="1" fill="#000"/><rect x="0" y="0" width="1" height="389" fill="#000"/><rect x="519" y="0" width="1" height="389" fill="#000"/><rect x="0" y="388" width="520" height="1" fill="#000"/></g>
</g>
</svg>
</body></html>
